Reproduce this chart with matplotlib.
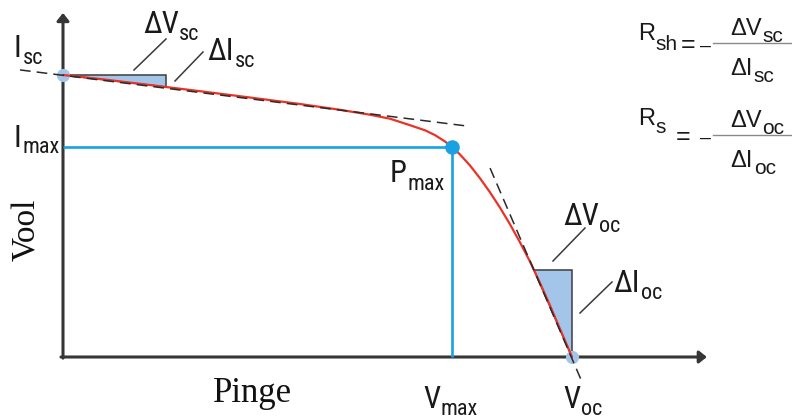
import os
import matplotlib
matplotlib.use("Agg")
import matplotlib.pyplot as plt
from matplotlib.patches import Polygon
from matplotlib.transforms import Affine2D
from matplotlib import font_manager
from matplotlib.font_manager import FontProperties

# ---- data (normalised: Isc = 1, Voc = 1) ---------------------------------
voltage = [0.0, 0.0727, 0.1709, 0.2692, 0.3674, 0.4656, 0.5442, 0.6031,
           0.6424, 0.6817, 0.7112, 0.7308, 0.7505, 0.7642, 0.7800, 0.7996,
           0.8193, 0.8389, 0.8585, 0.8782, 0.8978, 0.9175, 0.9371, 0.9568,
           0.9764, 1.0]
current = [1.0, 0.9858, 0.9645, 0.9426, 0.9202, 0.8972, 0.8766, 0.8592,
           0.8450, 0.8220, 0.8039, 0.7869, 0.7642, 0.7447, 0.7181, 0.6791,
           0.6337, 0.5840, 0.5298, 0.4706, 0.4067, 0.3383, 0.2624, 0.1826,
           0.0993, 0.0]

i_sc = 1.0
v_oc = 1.0
v_mp, i_mp = 0.7642, 0.7447

# tangents at short circuit (shunt) and open circuit (series)
shunt_tangent_v = [-0.0845, 0.794]
shunt_tangent_i = [1.018, 0.819]
series_tangent_v = [0.839, 1.0197]
series_tangent_i = [0.670, -0.0887]

# slope triangles
sc_triangle_v = [0.0, 0.202, 0.202]
sc_triangle_i = [1.0, 1.0, 0.957]
oc_triangle_v = [0.925, 1.0, 1.0]
oc_triangle_i = [0.309, 0.309, 0.0]


# ---- fonts -------------------------------------------------------------------
def condensed_sans():
    skip = ("bold", "italic", "oblique", "light", "medium", "thin", "black",
            "semi", "extra", "heavy", "mono")
    files = [f.fname for f in font_manager.fontManager.ttflist]
    regular = [p for p in files
               if not any(s in os.path.basename(p).lower() for s in skip)]
    for key in ("liberationsansnarrow", "robotocondensed", "opensanscondensed",
                "opensans_condensed", "notosans-condensed", "notosanscondensed",
                "dejavusanscondensed"):
        for p in regular:
            if key in os.path.basename(p).lower().replace(" ", ""):
                return FontProperties(fname=p)
    for p in regular:
        name = os.path.basename(p).lower()
        if "narrow" in name or "condensed" in name:
            return FontProperties(fname=p)
    return FontProperties(family="Liberation Sans")


label_fp = condensed_sans()
formula_fp = FontProperties(family="Liberation Sans")
serif_font = "Liberation Serif"

W, H = 792, 420
fig = plt.figure(figsize=(W / 100, H / 100), dpi=100)
ax = fig.add_axes([0, 0, 1, 1])
ax.set_xlim(-0.12377, 1.43222)
ax.set_ylim(-0.22340, 1.26596)
ax.axis("off")
renderer = fig.canvas.get_renderer()

# page coordinates (pixels from the top-left corner) for annotation layout
page = Affine2D().scale(1 / W, -1 / H).translate(0, 1) + fig.transFigure

axis_col = "#363636"
blue = "#1aa1e2"
light_blue = "#a3c5e9"
red = "#ea3327"
text_col = "#1a1a1a"

# axes with arrow heads
arrow = dict(arrowstyle="-|>,head_length=0.45,head_width=0.36",
             color=axis_col, lw=2.2, shrinkA=0, shrinkB=0)
ax.annotate("", xy=(0, 1.22), xytext=(0, -0.004), arrowprops=arrow, zorder=1)
ax.annotate("", xy=(1.265, 0), xytext=(-0.004, 0), arrowprops=arrow, zorder=1)

# maximum power point guides
ax.plot([0, v_mp], [i_mp, i_mp], color=blue, lw=1.9, zorder=2, solid_capstyle="butt")
ax.plot([v_mp, v_mp], [i_mp, 0], color=blue, lw=1.9, zorder=2, solid_capstyle="butt")

# slope triangles
for tv, ti in ((sc_triangle_v, sc_triangle_i), (oc_triangle_v, oc_triangle_i)):
    ax.add_patch(Polygon(list(zip(tv, ti)), closed=True, facecolor=light_blue,
                         edgecolor="#3c3c3c", lw=1.1, zorder=3))

# end points
ax.plot([0, v_oc], [i_sc, 0], "o", ms=9.5, color=light_blue, mec="none", zorder=4)

# I-V curve
ax.plot(voltage, current, color=red, lw=1.6, zorder=5, solid_capstyle="round",
        solid_joinstyle="round")

# tangents
for tv, ti in ((shunt_tangent_v, shunt_tangent_i), (series_tangent_v, series_tangent_i)):
    ax.plot(tv, ti, color="#2a2a2a", lw=1.1, ls=(0, (7, 4)), zorder=6)

# maximum power point
ax.plot([v_mp], [i_mp], "o", ms=10.5, color=blue, mec="none", zorder=7)

# leader lines
leaders = [((134, 70), (166, 39)), ((175, 81), (203, 52)),
           ((553, 261), (585, 228)), ((580, 313), (612, 282))]
for (x0, y0), (x1, y1) in leaders:
    ax.plot([x0, x1], [y0, y1], color="#3a3a3a", lw=1.1, transform=page,
            zorder=6)


def put(x, y, s, fp, size):
    prop = fp.copy()
    prop.set_size(size)
    return ax.text(x, y, s, transform=page, fontproperties=prop,
                   color=text_col, ha="left", va="baseline")


def label(x, y, main, sub, fp=label_fp, size=22, sub_size=16, drop=7, gap=0.5):
    t = put(x, y, main, fp, size)
    right = t.get_window_extent(renderer).x1
    put(right + gap, y + drop, sub, fp, sub_size)


label(13, 57, "I", "sc", gap=2)
label(13, 147, "I", "max", gap=2, drop=6)
label(143, 33, "ΔV", "sc")
label(207, 60, "ΔI", "sc", gap=2)
label(390, 182, "P", "max", drop=8)
label(563, 225, "ΔV", "oc")
label(613, 292, "ΔI", "oc", gap=2)
label(423, 408, "V", "max")
label(563, 408, "V", "oc")

ax.text(213, 402, "Pinge", transform=page, fontsize=25, family=serif_font,
        color="#111111", ha="left", va="baseline")
ax.text(27, 230, "Vool", transform=page, fontsize=24, family=serif_font,
        color="#111111", ha="center", va="center", rotation=90)

# resistance formulas: R = -dV/dI
formulas = [("sh", "sc", 40, 10, 681, 43), ("s", "oc", 125, 8, 676, 135)]
for sub, kind, base, drop, eq_x, bar_y in formulas:
    label(638, base, "R", sub, fp=formula_fp, size=17, sub_size=15, drop=drop)
    put(eq_x, bar_y + 8.5, "=", formula_fp, 18)
    put(700, bar_y + 7.5, "–", formula_fp, 14)
    ax.plot([713, 792], [bar_y, bar_y], color="#8a8a8a", lw=1.0,
            transform=page, zorder=2)
    label(730, bar_y - 8, "ΔV", kind, fp=formula_fp, size=17, sub_size=15)
    label(730, bar_y + 32, "ΔI", kind, fp=formula_fp, size=17, sub_size=15,
          gap=1.5)

fig.savefig("out.png", dpi=100)
